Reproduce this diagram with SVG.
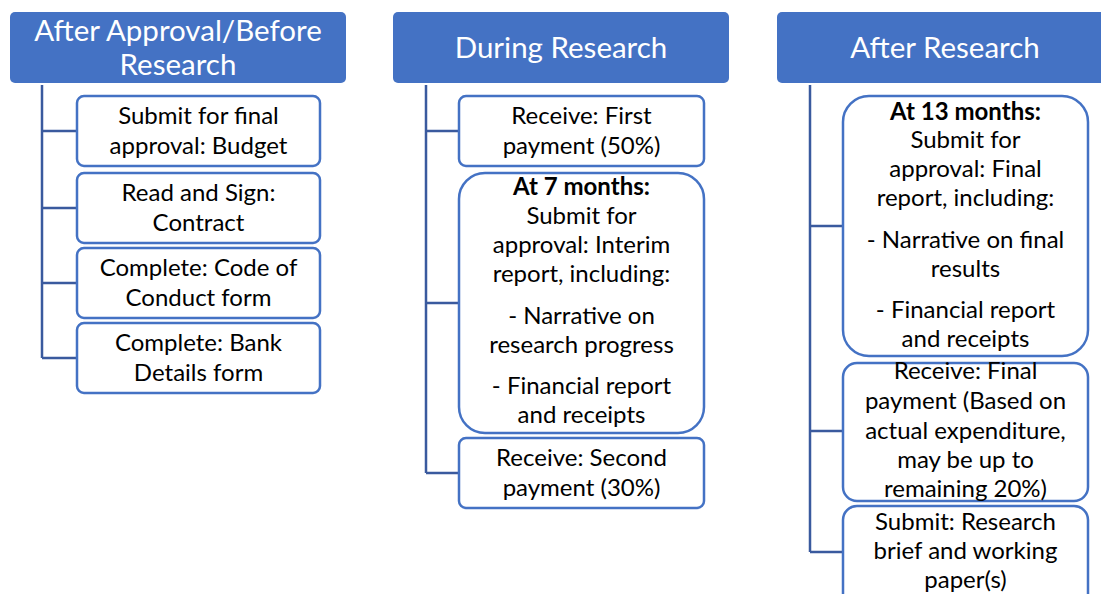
<svg xmlns="http://www.w3.org/2000/svg" width="1101" height="594" viewBox="0 0 1101 594">
<style>
.hdr{fill:#4472C4;}
.ht{font-family:Lato,"Liberation Sans",sans-serif;font-size:29.5px;fill:#fff;text-anchor:middle;}
.box{fill:#fff;stroke:#4472C4;stroke-width:2.5;}
.t{font-family:Lato,"Liberation Sans",sans-serif;font-size:24px;fill:#000;text-anchor:middle;}
.b{font-weight:bold;}
.con{fill:none;stroke:#3A5A9E;stroke-width:2.5;}
</style>
<rect width="1101" height="594" fill="#fff"/>
<g id="connectors">
<path class="con" d="M42,85 V358 M42,131 H77 M42,208 H77 M42,283 H77 M42,358 H77"/>
<path class="con" d="M426,85 V473 M426,131 H459 M426,303 H459 M426,473 H459"/>
<path class="con" d="M810,85 V552 M810,226 H843 M810,431 H843 M810,552 H843"/>
</g>
<g id="h1"><rect class="hdr" x="10" y="12" width="336" height="71" rx="5"/>
<text class="ht" x="178" y="41">After Approval/Before</text><text class="ht" x="178" y="75">Research</text></g>
<g id="h2"><rect class="hdr" x="393" y="12" width="336" height="71" rx="5"/>
<text class="ht" x="561" y="58">During Research</text></g>
<g id="h3"><rect class="hdr" x="777" y="12" width="336" height="71" rx="5"/>
<text class="ht" x="945" y="58">After Research</text></g>
<g id="c1b1"><rect class="box" x="77" y="96" width="243" height="70" rx="7"/>
<text class="t" x="198.5" y="124">Submit for final</text><text class="t" x="198.5" y="154">approval: Budget</text></g>
<g id="c1b2"><rect class="box" x="77" y="173" width="243" height="70" rx="7"/>
<text class="t" x="198.5" y="201">Read and Sign:</text><text class="t" x="198.5" y="231">Contract</text></g>
<g id="c1b3"><rect class="box" x="77" y="248" width="243" height="70" rx="7"/>
<text class="t" x="198.5" y="276">Complete: Code of</text><text class="t" x="198.5" y="306">Conduct form</text></g>
<g id="c1b4"><rect class="box" x="77" y="323" width="243" height="70" rx="7"/>
<text class="t" x="198.5" y="351">Complete: Bank</text><text class="t" x="198.5" y="381">Details form</text></g>
<g id="c2b1"><rect class="box" x="459" y="96" width="245" height="70" rx="7"/>
<text class="t" x="581.5" y="124">Receive: First</text><text class="t" x="581.5" y="154">payment (50%)</text></g>
<g id="c2b2"><rect class="box" x="459" y="173" width="245" height="260" rx="26"/>
<text class="t b" x="581.5" y="195">At 7 months:</text>
<text class="t" x="581.5" y="224">Submit for</text>
<text class="t" x="581.5" y="253">approval: Interim</text>
<text class="t" x="581.5" y="282">report, including:</text>
<text class="t" x="581.5" y="324">- Narrative on</text>
<text class="t" x="581.5" y="353">research progress</text>
<text class="t" x="581.5" y="394">- Financial report</text>
<text class="t" x="581.5" y="423">and receipts</text></g>
<g id="c2b3"><rect class="box" x="459" y="438" width="245" height="70" rx="7"/>
<text class="t" x="581.5" y="466">Receive: Second</text><text class="t" x="581.5" y="496">payment (30%)</text></g>
<g id="c3b1"><rect class="box" x="843" y="96" width="245" height="260" rx="26"/>
<text class="t b" x="965.5" y="120">At 13 months:</text>
<text class="t" x="965.5" y="148">Submit for</text>
<text class="t" x="965.5" y="177">approval: Final</text>
<text class="t" x="965.5" y="206">report, including:</text>
<text class="t" x="965.5" y="248">- Narrative on final</text>
<text class="t" x="965.5" y="277">results</text>
<text class="t" x="965.5" y="318">- Financial report</text>
<text class="t" x="965.5" y="347">and receipts</text></g>
<g id="c3b2"><rect class="box" x="843" y="363" width="245" height="138" rx="14"/>
<text class="t" x="965.5" y="379">Receive: Final</text>
<text class="t" x="965.5" y="409">payment (Based on</text>
<text class="t" x="965.5" y="439">actual expenditure,</text>
<text class="t" x="965.5" y="468">may be up to</text>
<text class="t" x="965.5" y="497">remaining 20%)</text></g>
<g id="c3b3"><rect class="box" x="843" y="506" width="245" height="110" rx="14"/>
<text class="t" x="965.5" y="530">Submit: Research</text>
<text class="t" x="965.5" y="559">brief and working</text>
<text class="t" x="965.5" y="588">paper(s)</text></g>
</svg>
